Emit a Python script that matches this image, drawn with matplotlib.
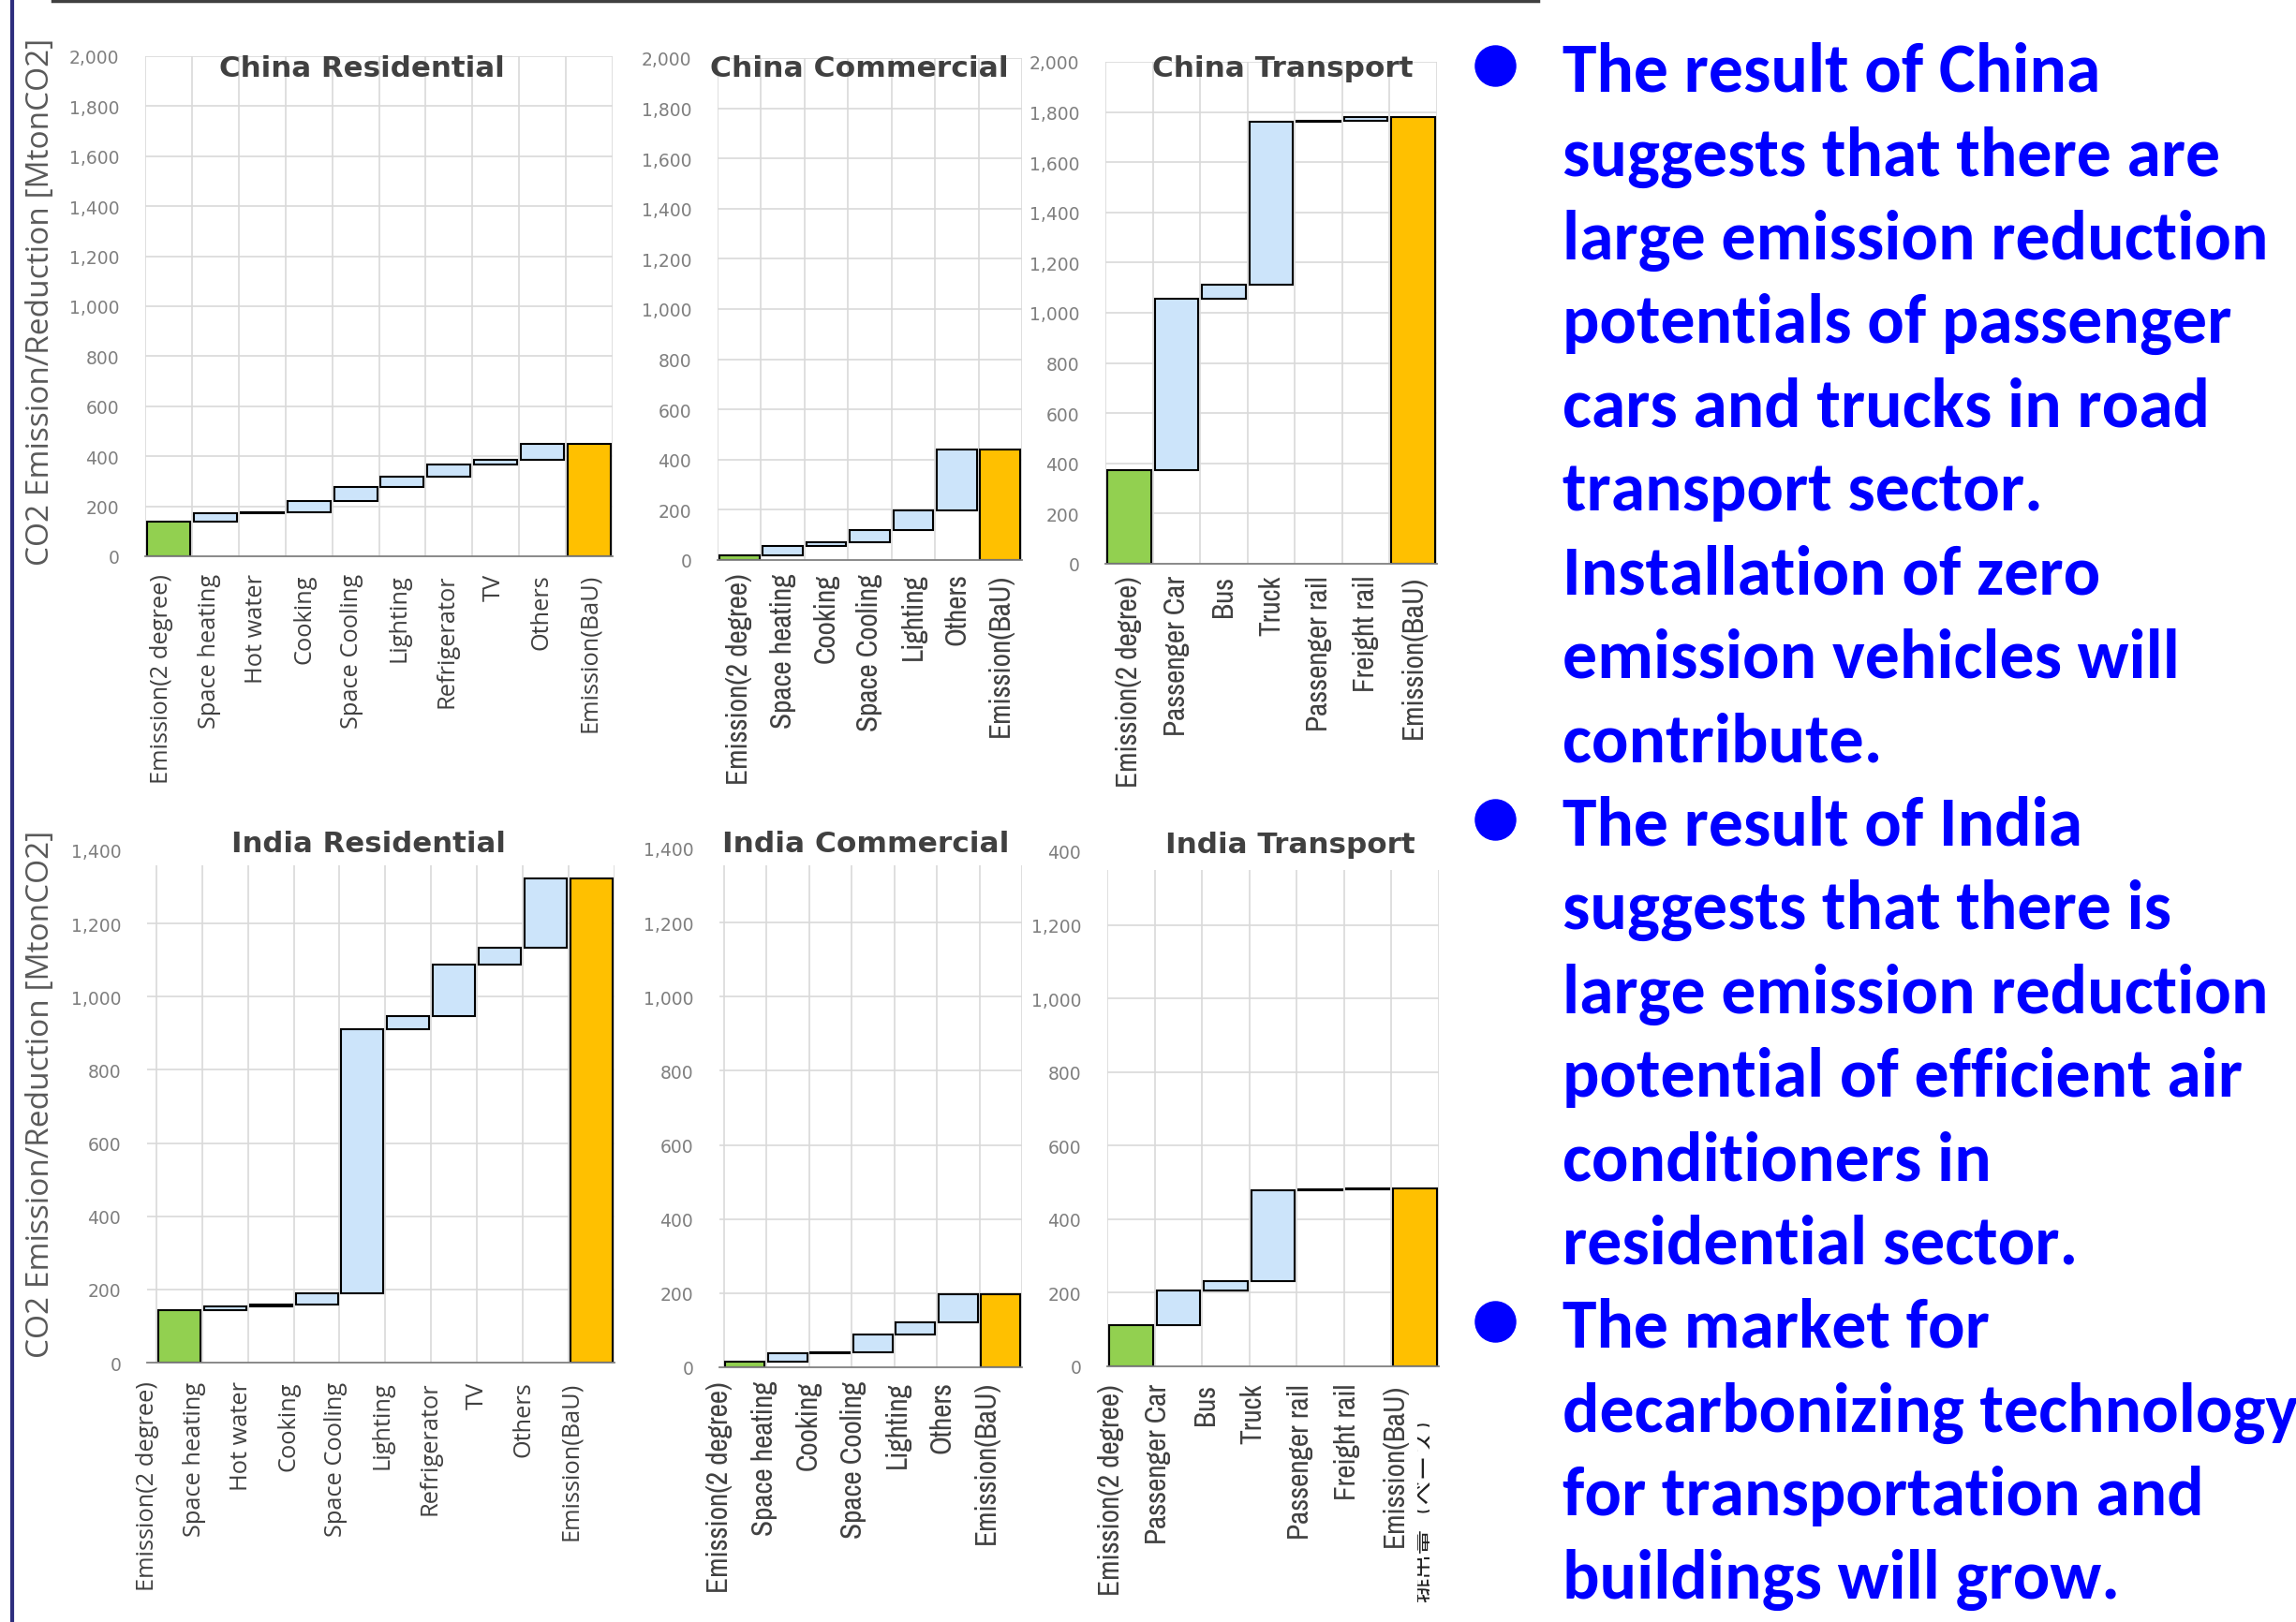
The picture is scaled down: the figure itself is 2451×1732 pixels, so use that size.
"""
China / India emission waterfalls (2 degree vs BaU) with the slide's side notes.
"""
import numpy as np
import matplotlib
matplotlib.use("Agg")
import matplotlib.pyplot as plt
from matplotlib.lines import Line2D
from matplotlib.transforms import Bbox

W, H, DPI = 2451, 1733, 100

# --- data (MtonCO2), first value = emission at 2 degree, rest = reductions ---
RES_CATS = ["Emission(2 degree)", "Space heating", "Hot water", "Cooking", "Space Cooling",
            "Lighting", "Refrigerator", "TV", "Others", "Emission(BaU)"]
COM_CATS = ["Emission(2 degree)", "Space heating", "Cooking", "Space Cooling", "Lighting",
            "Others", "Emission(BaU)"]
TRA_CATS = ["Emission(2 degree)", "Passenger Car", "Bus", "Truck", "Passenger rail",
            "Freight rail", "Emission(BaU)"]

CN_RES = [140, 31, 5, 46, 56, 39, 49, 18, 67]
CN_COM = [20, 37, 14, 50, 77, 243]
CN_TRA = [372, 684, 56, 651, 3, 12]
IN_RES = [143, 11, 4, 32, 720, 38, 140, 45, 190]
IN_COM = [14, 24, 3, 48, 32, 76]
IN_TRA = [112, 95, 24, 247, 2, 3]

CN_TICKS = [0, 200, 400, 600, 800, 1000, 1200, 1400, 1600, 1800, 2000]
IN_TICKS = [0, 200, 400, 600, 800, 1000, 1200, 1400]
IN_TRA_TICKLABELS = ["0", "200", "400", "600", "800", "1,000", "1,200", "400"]

NOTES = [
    "The result of China",
    "suggests that there are",
    "large emission reduction",
    "potentials of passenger",
    "cars and trucks in road",
    "transport sector.",
    "Installation of zero",
    "emission vehicles will",
    "contribute.",
    "The result of India",
    "suggests that there is",
    "large emission reduction",
    "potential of efficient air",
    "conditioners in",
    "residential sector.",
    "The market for",
    "decarbonizing technology",
    "for transportation and",
    "buildings will grow.",
]
BULLET_LINES = [0, 9, 15]

GREEN = "#92D050"
BLUE = "#CCE4FA"
ORANGE = "#FFC000"
GRID = "#D9D9D9"
TICK_GREY = "#7F7F7F"
TITLE_GREY = "#404040"
NOTE_BLUE = "#0000FF"

REG = ["Open Sans", "DejaVu Sans"]
NARROW = ["Liberation Sans Narrow", "Archivo Narrow", "Open Sans", "DejaVu Sans"]
BOLD_NARROW = ["Carlito", "Liberation Sans Narrow", "Open Sans", "DejaVu Sans"]

fig = plt.figure(figsize=(W / DPI, H / DPI), dpi=DPI)
renderer = fig.canvas.get_renderer()


def px(x, y):
    return x / W, 1 - y / H


def fit_size(text, target, along="w"):
    bb = text.get_window_extent(renderer)
    cur = bb.width if along == "w" else bb.height
    text.set_fontsize(text.get_fontsize() * target / cur)
    return text.get_fontsize()


def measure(s, target, along="w", **kw):
    t = fig.text(0, 0, s, fontsize=20, **kw)
    size = fit_size(t, target, along)
    t.remove()
    return size


RES_LBL = measure("Emission(2 degree)", 223, "h", rotation=90, family=REG)
NAR_LBL = measure("Emission(2 degree)", 225, "h", rotation=90, family=NARROW)
YTICK = measure("2,000", 54, "w", family="DejaVu Sans")


def panel(box, cats, values, ticks, ticklabels, title, title_xy, title_w,
          lbl_family, lbl_size, lbl_pad, lbl_offset, grid_top):
    l, r, t, b = box
    ax = fig.add_axes([l / W, 1 - b / H, (r - l) / W, (b - t) / H])
    n = len(cats)
    cum = np.cumsum(values)
    total = cum[-1]
    bottoms = [0] + list(cum[:-1]) + [0]
    heights = list(values) + [total]
    colors = [GREEN] + [BLUE] * (len(values) - 1) + [ORANGE]
    x = np.arange(n)
    ax.bar(x, heights, bottom=bottoms, width=0.92, color=colors,
           edgecolor="black", linewidth=1.5, zorder=3)

    ax.set_xlim(-0.5, n - 0.5)
    ax.set_ylim(0, ticks[-1])
    for v in ticks[1:]:
        if v <= grid_top:
            ax.axhline(v, color=GRID, lw=1.2, zorder=1)
    ax.vlines(np.arange(n + 1) - 0.5, 0, grid_top, color=GRID, lw=1.2, zorder=1)

    for s in ["top", "right", "left"]:
        ax.spines[s].set_visible(False)
    ax.spines["bottom"].set_color("#808080")
    ax.spines["bottom"].set_linewidth(1.3)
    ax.spines["bottom"].set_zorder(4)

    ax.set_yticks(ticks)
    ax.set_yticklabels(ticklabels, color=TICK_GREY, fontsize=YTICK, family="DejaVu Sans")
    ax.tick_params(axis="y", length=0, pad=20)
    ax.set_xticks(x + np.asarray(lbl_offset))
    ax.set_xticklabels(cats, rotation=90, fontsize=lbl_size, family=lbl_family,
                       color="#404040")
    ax.tick_params(axis="x", length=0, pad=lbl_pad)

    tt = fig.text(*px(*title_xy), title, ha="center", va="center",
                  fontsize=22, fontweight="bold", color=TITLE_GREY, family="DejaVu Sans")
    fit_size(tt, title_w, "w")
    return ax


def fmt(ticks):
    return [f"{v:,}" for v in ticks]


panel((155, 654, 61, 595), RES_CATS, CN_RES, CN_TICKS, fmt(CN_TICKS),
      "China Residential", (386, 73), 303, REG, RES_LBL, 13,
      np.linspace(-0.15, 0.0, len(RES_CATS)), 2000)
panel((766, 1091, 63, 599), COM_CATS, CN_COM, CN_TICKS, fmt(CN_TICKS),
      "China Commercial", (917, 73), 317, NARROW, NAR_LBL, 9.7, 0.0, 2000)
panel((1180, 1534, 67, 603), TRA_CATS, CN_TRA, CN_TICKS, fmt(CN_TICKS),
      "China Transport", (1369, 73), 277, NARROW, NAR_LBL, 8.6, 0.0, 2000)
panel((157, 656, 909, 1456), RES_CATS, IN_RES, IN_TICKS, fmt(IN_TICKS),
      "India Residential", (393, 902), 291, REG, RES_LBL, 14,
      np.linspace(-0.7, -0.45, len(RES_CATS)), 1360)
panel((768, 1091, 907, 1461), COM_CATS, IN_COM, IN_TICKS, fmt(IN_TICKS),
      "India Commercial", (924, 902), 305, NARROW, NAR_LBL, 10,
      np.linspace(-0.6, -0.33, len(COM_CATS)), 1354)
panel((1182, 1536, 910, 1460), TRA_CATS, IN_TRA, IN_TICKS, IN_TRA_TICKLABELS,
      "India Transport", (1377, 903), 265, NARROW, NAR_LBL, 13, -0.43, 1350)

# shared y labels
for yc in (322, 1168):
    yl = fig.text(*px(44, yc), "CO2 Emission/Reduction [MtonCO2]", rotation=90,
                  ha="center", va="center", fontsize=20, color="#595959", family=REG)
    fit_size(yl, 563, "h")

# cut-off Japanese label under India Transport
jp = fig.text(*px(1522, 1606), "排出量（ベース）", rotation=90, ha="center", va="center",
              fontsize=19, color="#202020", family=["Noto Sans CJK JP", "DejaVu Sans"])
jp.set_clip_box(Bbox([[1513, 0], [1526, H]]))

# side notes
BASE0, STEP = 98, 89.4
note_size = measure(NOTES[2], 753, "w", family=BOLD_NARROW, fontweight="bold")
for i, line in enumerate(NOTES):
    fig.text(*px(1668, BASE0 + i * STEP), line, ha="left", va="baseline",
             fontsize=note_size, fontweight="bold", color=NOTE_BLUE, family=BOLD_NARROW)
for i in BULLET_LINES:
    bx, by = px(1596, BASE0 + i * STEP - 27)
    fig.add_artist(Line2D([bx], [by], marker="o", ms=31, color=NOTE_BLUE,
                          transform=fig.transFigure))

# slide frame bits
fig.add_artist(Line2D([13 / W, 13 / W], [0, 1], color="#2E2E7E", lw=3,
                      transform=fig.transFigure))
fig.add_artist(Line2D([56 / W, 1642 / W], [1 - 2 / H, 1 - 2 / H], color="#404040", lw=2.5,
                      transform=fig.transFigure))

fig.savefig("out.png", dpi=DPI)
